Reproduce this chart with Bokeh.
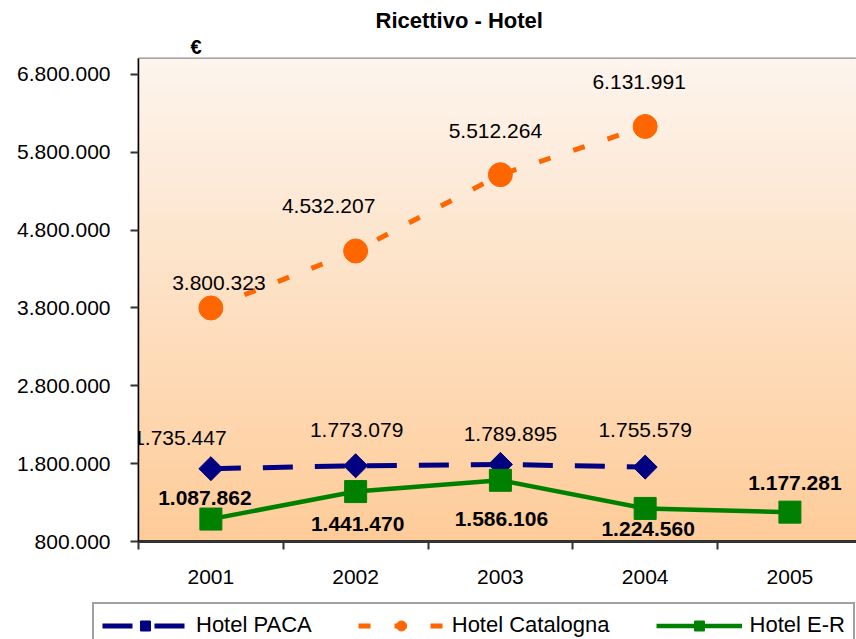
import numpy as np
from bokeh.plotting import figure
from bokeh.models import (Range1d, FixedTicker, Legend, LegendItem, ColumnDataSource,
                          LabelSet, Title)
from bokeh.core.properties import value
from bokeh.embed import file_html
from bokeh.resources import INLINE

# ---- data ----
years = ["2001", "2002", "2003", "2004", "2005"]
paca_years = [1, 2, 3, 4]
paca = [1735447, 1773079, 1789895, 1755579]
cat_years = [1, 2, 3, 4]
catalogna = [3800323, 4532207, 5512264, 6131991]
er_years = [1, 2, 3, 4, 5]
er = [1087862, 1441470, 1586106, 1224560, 1177281]
y_ticks = [800000, 1800000, 2800000, 3800000, 4800000, 5800000, 6800000]
y_tick_labels = ["800.000", "1.800.000", "2.800.000", "3.800.000", "4.800.000", "5.800.000", "6.800.000"]
series_names = ["Hotel PACA", "Hotel Catalogna", "Hotel E-R"]

def fmt(v):
    return f"{v:,}".replace(",", ".")

FONT = "Liberation Sans"
FS = "21px"

Y0, Y1 = 800000, 7005000
X0, X1 = 0.5, 5.46

PACA_STYLE = dict(line_color="#000080", line_width=5, line_dash="30 22")
PACA_MK = dict(marker="square", angle=np.pi / 4, size=17, fill_color="#000080", line_color="#000080")
CAT_STYLE = dict(line_color="#FF6600", line_width=5, line_dash="12 24")
CAT_MK = dict(marker="circle", size=24, fill_color="#FF6600", line_color="#FF6600")
ER_STYLE = dict(line_color="#008000", line_width=4.5)
ER_MK = dict(marker="square", size=22, fill_color="#008000", line_color="#008000")

p = figure(width=856, height=600, output_backend="svg", toolbar_location=None,
           x_range=Range1d(X0, X1), y_range=Range1d(Y0, Y1),
           min_border_left=138, min_border_right=0, min_border_top=58,
           min_border_bottom=59, title=None)
p.background_fill_color = "white"
p.border_fill_color = "white"
p.outline_line_color = "#8c8c8c"
p.outline_line_width = 2

# gradient background
n = 200
t = np.linspace(0, 1, n)[:, None]  # 0 bottom -> 1 top
bot = np.array([255, 204, 153])
top = np.array([253, 245, 238])
cols = (bot + (top - bot) * t).astype(np.uint32)
img = np.empty((n, 2), dtype=np.uint32)
view = img.view(dtype=np.uint8).reshape((n, 2, 4))
view[:, :, 0] = cols[:, 0:1]
view[:, :, 1] = cols[:, 1:2]
view[:, :, 2] = cols[:, 2:3]
view[:, :, 3] = 255
p.image_rgba(image=[img], x=X0, y=Y0, dw=X1 - X0, dh=Y1 - Y0)

# grid
p.xgrid.grid_line_color = None
p.ygrid.grid_line_color = "black"
p.ygrid.grid_line_width = 1
p.ygrid.level = "image"

# axes
p.yaxis.ticker = FixedTicker(ticks=y_ticks)
p.yaxis.major_label_overrides = {t_: l for t_, l in zip(y_ticks, y_tick_labels)}
p.yaxis.major_label_text_font = FONT
p.yaxis.major_label_text_font_size = FS
p.yaxis.major_label_text_color = "black"
p.yaxis.major_tick_out = 8
p.yaxis.major_tick_in = 0
p.yaxis.minor_tick_line_color = None
p.yaxis.axis_line_color = "black"
p.yaxis.axis_line_width = 1.5
p.yaxis.major_tick_line_color = "#333333"
p.yaxis.major_tick_line_width = 2
p.yaxis.major_label_standoff = 20

p.xaxis.ticker = FixedTicker(ticks=[1, 2, 3, 4, 5], minor_ticks=[0.5, 1.5, 2.5, 3.5, 4.5, 5.5])
p.xaxis.major_label_overrides = {i + 1: y for i, y in enumerate(years)}
p.xaxis.major_label_text_font = FONT
p.xaxis.major_label_text_font_size = FS
p.xaxis.major_label_text_color = "black"
p.xaxis.major_tick_out = 0
p.xaxis.major_tick_in = 0
p.xaxis.minor_tick_out = 8
p.xaxis.minor_tick_in = 0
p.xaxis.minor_tick_line_color = "#333333"
p.xaxis.minor_tick_line_width = 2
p.xaxis.axis_line_color = "#333333"
p.xaxis.axis_line_width = 3
p.xaxis.major_label_standoff = 20

# series
p.line(paca_years, paca, **PACA_STYLE)
p.scatter(paca_years, paca, **PACA_MK)
p.line(cat_years, catalogna, **CAT_STYLE)
p.scatter(cat_years, catalogna, **CAT_MK)
p.line(er_years, er, **ER_STYLE)
p.scatter(er_years, er, **ER_MK)

# data labels (pixel offsets from their points)
paca_dx = [-31, 1, 10, 0]
paca_dy = [31, 36, 30, 37]
cat_dx = [8, -27, -5, -6]
cat_dy = [25, 45, 44, 44]
er_dx = [-6, 2, 1, 3, 5]
er_dy = [21, -32, -39, -21, 29]

src_paca = ColumnDataSource(dict(x=paca_years, y=paca, t=[fmt(v) for v in paca], dx=paca_dx, dy=paca_dy))
src_cat = ColumnDataSource(dict(x=cat_years, y=catalogna, t=[fmt(v) for v in catalogna], dx=cat_dx, dy=cat_dy))
src_er = ColumnDataSource(dict(x=er_years, y=er, t=[fmt(v) for v in er], dx=er_dx, dy=er_dy))

for src, bold in [(src_paca, False), (src_cat, False), (src_er, True)]:
    p.add_layout(LabelSet(x="x", y="y", text="t", source=src, x_offset="dx", y_offset="dy",
                          text_align="center", text_baseline="middle",
                          text_font=value(FONT), text_font_size=FS,
                          text_font_style="bold" if bold else "normal",
                          text_color="black"))

# euro sign (closest to frame) and main title
p.add_layout(Title(text="€", align="left", offset=52, text_font=FONT, text_font_size="20px",
                   text_font_style="bold", standoff=2, text_color="black"), "above")
p.add_layout(Title(text="Ricettivo - Hotel", align="left", offset=237, text_font=FONT,
                   text_font_size="22px", text_font_style="bold", standoff=0,
                   text_color="black"), "above")

# ---- legend strip below the chart (series drawn off-range; only their legend keys show) ----
lg = figure(width=856, height=39, output_backend="svg", toolbar_location=None,
            x_range=Range1d(-100, -99), y_range=Range1d(-100, -99), min_border=0,
            min_border_left=0, min_border_right=0, min_border_top=0, min_border_bottom=0,
            x_axis_type=None, y_axis_type=None, title=None)
lg.outline_line_color = None
lg.grid.visible = False
lg.background_fill_color = "white"
lg.border_fill_color = "white"
l1 = lg.line(paca_years, paca, **PACA_STYLE)
m1 = lg.scatter(paca_years, paca, **PACA_MK)
l2 = lg.line(cat_years, catalogna, **CAT_STYLE)
m2 = lg.scatter(cat_years, catalogna, **CAT_MK)
l3 = lg.line(er_years, er, **ER_STYLE)
m3 = lg.scatter(er_years, er, **ER_MK)

legend = Legend(items=[LegendItem(label=series_names[0], renderers=[l1, m1]),
                       LegendItem(label=series_names[1], renderers=[l2, m2]),
                       LegendItem(label=series_names[2], renderers=[l3, m3])],
                orientation="horizontal", location=(92, -9))
legend.label_text_font = FONT
legend.label_text_font_size = "22px"
legend.label_text_color = "black"
legend.glyph_width = 86
legend.glyph_height = 25
legend.label_standoff = 8
legend.spacing = 46
legend.padding = 8
legend.margin = 0
legend.border_line_color = "#444444"
legend.border_line_width = 2
legend.background_fill_color = "white"
legend.background_fill_alpha = 1
lg.add_layout(legend, "center")

open("out.html", "w").write(file_html([p, lg], INLINE))
